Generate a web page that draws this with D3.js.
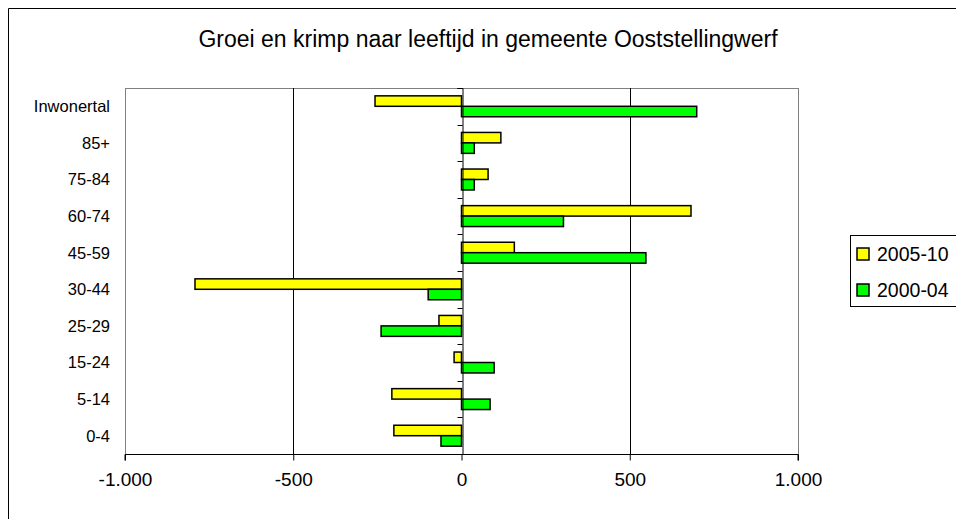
<!DOCTYPE html>
<html>
<head>
<meta charset="utf-8">
<script src="https://cdn.jsdelivr.net/npm/d3@7"></script>
<style>
  html, body { margin: 0; padding: 0; background: #fff; }
  svg { display: block; font-family: "Liberation Sans", Arial, sans-serif; }
</style>
</head>
<body>
<svg id="chart" width="956" height="519"></svg>
<script>
// Age groups, top to bottom
const categories = ["Inwonertal", "85+", "75-84", "60-74", "45-59", "30-44", "25-29", "15-24", "5-14", "0-4"];
// Growth / decline per age group
const series2005_10 = [-257, 117, 79, 682, 157, -792, -67, -22, -207, -201];
const series2000_04 = [699, 38, 38, 303, 548, -99, -239, 97, 85, -61];
const seriesNames = ["2005-10", "2000-04"];
const seriesColors = ["#ffff00", "#00ff00"];
const xTicks = [-1000, -500, 0, 500, 1000];
const title = "Groei en krimp naar leeftijd in gemeente Ooststellingwerf";

const svg = d3.select("#chart");
const plot = { left: 125, right: 798, top: 88, bottom: 454 };

// Outer chart border
svg.append("path")
  .attr("d", "M8.5,519 L8.5,8.5 L960,8.5")
  .attr("fill", "none").attr("stroke", "#000").attr("stroke-width", 1);

// Title
svg.append("text")
  .attr("x", 488).attr("y", 47)
  .attr("text-anchor", "middle")
  .attr("font-size", 23)
  .attr("fill", "#000")
  .text(title);

const x = d3.scaleLinear().domain([-1000, 1000]).range([plot.left, plot.right]);
const y = d3.scaleBand().domain(categories).range([plot.top, plot.bottom]).padding(0);
const barW = y.bandwidth() / 3.5;
const inner = d3.scaleBand().domain(seriesNames)
  .range([0.75 * barW, 2.75 * barW]).padding(0);

// Plot frame
svg.append("rect")
  .attr("x", plot.left + 0.5).attr("y", plot.top + 0.5)
  .attr("width", plot.right - plot.left).attr("height", plot.bottom - plot.top)
  .attr("fill", "#fff").attr("stroke", "#808080").attr("stroke-width", 1);

// Vertical gridlines
svg.append("g").selectAll("line")
  .data(xTicks.filter(d => d !== 0 && Math.abs(d) !== 1000))
  .join("line")
  .attr("x1", d => Math.round(x(d)) + 0.5).attr("x2", d => Math.round(x(d)) + 0.5)
  .attr("y1", plot.top).attr("y2", plot.bottom)
  .attr("stroke", "#000").attr("stroke-width", 1);

// Bars
const rows = categories.map((c, i) => ({ c, vals: [series2005_10[i], series2000_04[i]] }));
const groups = svg.append("g").selectAll("g")
  .data(rows).join("g")
  .attr("transform", d => `translate(0,${y(d.c)})`);
groups.selectAll("rect")
  .data(d => d.vals.map((v, k) => ({ v, k })))
  .join("rect")
  .attr("x", d => x(Math.min(0, d.v)))
  .attr("width", d => Math.abs(x(d.v) - x(0)))
  .attr("y", d => inner(seriesNames[d.k]))
  .attr("height", inner.bandwidth())
  .attr("fill", d => seriesColors[d.k])
  .attr("stroke", "#000").attr("stroke-width", 1.5);

// Category axis at zero
const yAxis = d3.axisLeft(y).tickSize(5).tickFormat("");
const yAxisG = svg.append("g")
  .attr("transform", `translate(${Math.round(x(0)) + 0.5},0)`)
  .call(yAxis);
yAxisG.select(".domain").attr("stroke", "#000");
yAxisG.selectAll(".tick").remove();
yAxisG.selectAll(".bnd")
  .data(categories.map(c => y(c)).concat([plot.bottom]))
  .join("line").attr("class", "bnd")
  .attr("x1", -5).attr("x2", 0)
  .attr("y1", d => Math.round(d) + 0.5).attr("y2", d => Math.round(d) + 0.5)
  .attr("stroke", "#000");

// Category labels
svg.append("g").selectAll("text")
  .data(categories).join("text")
  .attr("x", 110)
  .attr("y", d => y(d) + y.bandwidth() / 2)
  .attr("dy", "0.36em")
  .attr("text-anchor", "end")
  .attr("font-size", 16.5)
  .attr("fill", "#000")
  .text(d => d);

// Value axis, Dutch number format with a plain hyphen for negatives
const fmt = d3.formatLocale({ decimal: ",", thousands: ".", grouping: [3], currency: ["", ""], minus: "-" }).format(",d");
const xAxis = d3.axisBottom(x).tickValues(xTicks).tickSize(6).tickPadding(12).tickFormat(fmt);
const xAxisG = svg.append("g")
  .attr("transform", `translate(0,${plot.bottom + 0.5})`)
  .call(xAxis);
xAxisG.select(".domain").attr("stroke", "#000").attr("d", `M${plot.left},6V0H${plot.right}V6`);
xAxisG.selectAll(".tick line").attr("stroke", "#000");
xAxisG.selectAll(".tick text")
  .attr("font-size", 19).attr("fill", "#000")
  .attr("font-family", "Liberation Sans, Arial, sans-serif");

// Legend
const legend = svg.append("g");
legend.append("rect")
  .attr("x", 850.5).attr("y", 235.5)
  .attr("width", 120).attr("height", 71)
  .attr("fill", "#fff").attr("stroke", "#000").attr("stroke-width", 1);
const li = legend.selectAll("g.item")
  .data(seriesNames).join("g").attr("class", "item")
  .attr("transform", (d, i) => `translate(857,${248 + i * 36})`);
li.append("rect")
  .attr("width", 12).attr("height", 12)
  .attr("fill", (d, i) => seriesColors[i])
  .attr("stroke", "#000").attr("stroke-width", 1.5);
li.append("text")
  .attr("x", 20).attr("y", 6).attr("dy", "0.36em")
  .attr("font-size", 19.5).attr("fill", "#000")
  .text(d => d);
</script>
</body>
</html>
